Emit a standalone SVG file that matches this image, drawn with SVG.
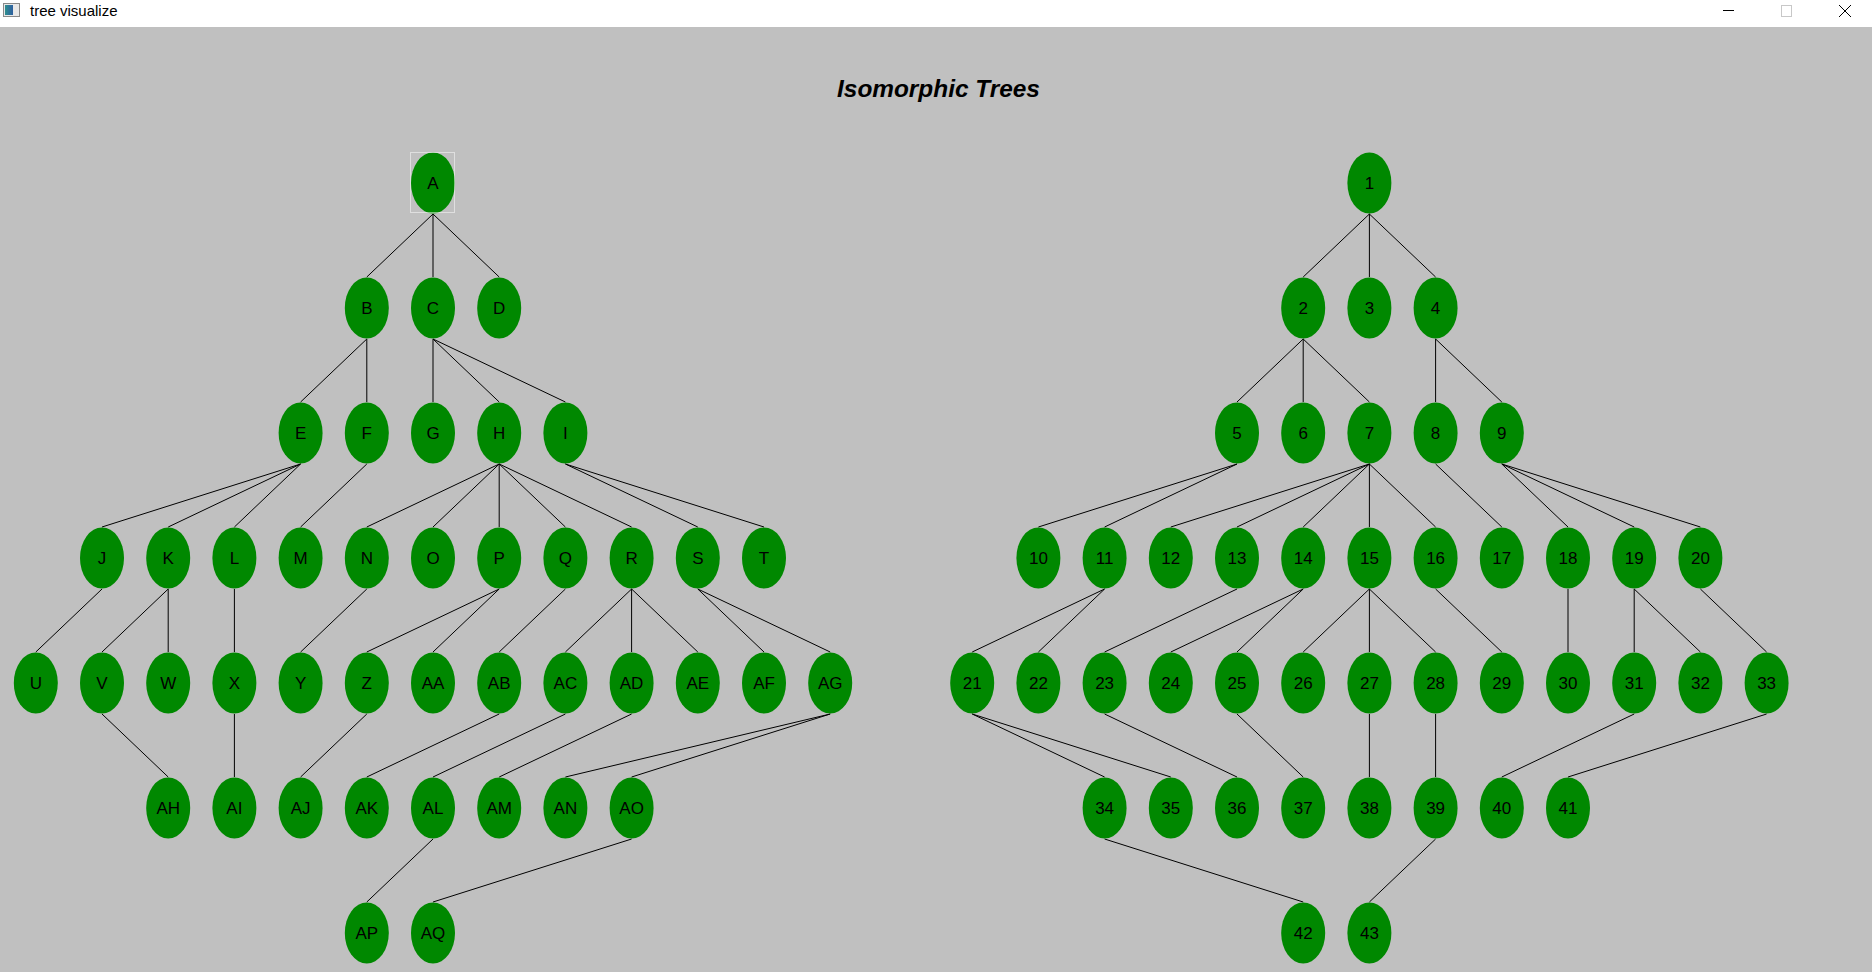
<svg xmlns="http://www.w3.org/2000/svg" width="1872" height="972" viewBox="0 0 1872 972">
<style>
.n ellipse{fill:#008800;stroke:none}
.n text{font-family:"Liberation Sans",Arial,sans-serif;font-size:17px;fill:#000;text-anchor:middle}
#edges line{stroke:#000;stroke-width:1}
</style>
<defs>
<linearGradient id="ic" x1="0" x2="1" y1="0" y2="0"><stop offset="0" stop-color="#2f8f8f"/><stop offset="1" stop-color="#2f5fa0"/></linearGradient>
</defs>
<rect x="0" y="0" width="1872" height="972" fill="#c0c0c0"/>
<g id="titlebar">
<rect x="0" y="0" width="1872" height="27" fill="#ffffff"/>
<rect x="3.5" y="3.5" width="16" height="13" fill="#e8e8e8" stroke="#8a8a8a" stroke-width="1"/>
<rect x="5" y="5" width="8" height="10" fill="url(#ic)"/>
<text x="30" y="16" font-family="'Liberation Sans',Arial,sans-serif" font-size="15" fill="#000">tree visualize</text>
<line x1="1723" y1="10.5" x2="1734" y2="10.5" stroke="#000" stroke-width="1"/>
<rect x="1781.5" y="5.5" width="10" height="11" fill="none" stroke="#c8c8c8" stroke-width="1"/>
<line x1="1839" y1="5" x2="1851" y2="17" stroke="#000" stroke-width="1"/>
<line x1="1851" y1="5" x2="1839" y2="17" stroke="#000" stroke-width="1"/>
</g>
<text id="title" x="938.5" y="97" font-family="'Liberation Sans',Arial,sans-serif" font-size="24.4" font-weight="bold" font-style="italic" text-anchor="middle" fill="#000">Isomorphic Trees</text>
<g id="edges">
<line x1="433" y1="214" x2="366.8" y2="277"/>
<line x1="433" y1="214" x2="433" y2="277"/>
<line x1="433" y1="214" x2="499.2" y2="277"/>
<line x1="366.8" y1="339" x2="300.6" y2="402"/>
<line x1="366.8" y1="339" x2="366.8" y2="402"/>
<line x1="433" y1="339" x2="433" y2="402"/>
<line x1="433" y1="339" x2="499.2" y2="402"/>
<line x1="433" y1="339" x2="565.4" y2="402"/>
<line x1="300.6" y1="464" x2="102" y2="527"/>
<line x1="300.6" y1="464" x2="168.2" y2="527"/>
<line x1="300.6" y1="464" x2="234.4" y2="527"/>
<line x1="366.8" y1="464" x2="300.6" y2="527"/>
<line x1="499.2" y1="464" x2="366.8" y2="527"/>
<line x1="499.2" y1="464" x2="433" y2="527"/>
<line x1="499.2" y1="464" x2="499.2" y2="527"/>
<line x1="499.2" y1="464" x2="565.4" y2="527"/>
<line x1="499.2" y1="464" x2="631.6" y2="527"/>
<line x1="565.4" y1="464" x2="697.8" y2="527"/>
<line x1="565.4" y1="464" x2="764" y2="527"/>
<line x1="102" y1="589" x2="35.8" y2="652"/>
<line x1="168.2" y1="589" x2="102" y2="652"/>
<line x1="168.2" y1="589" x2="168.2" y2="652"/>
<line x1="234.4" y1="589" x2="234.4" y2="652"/>
<line x1="366.8" y1="589" x2="300.6" y2="652"/>
<line x1="499.2" y1="589" x2="366.8" y2="652"/>
<line x1="499.2" y1="589" x2="433" y2="652"/>
<line x1="565.4" y1="589" x2="499.2" y2="652"/>
<line x1="631.6" y1="589" x2="565.4" y2="652"/>
<line x1="631.6" y1="589" x2="631.6" y2="652"/>
<line x1="631.6" y1="589" x2="697.8" y2="652"/>
<line x1="697.8" y1="589" x2="764" y2="652"/>
<line x1="697.8" y1="589" x2="830.2" y2="652"/>
<line x1="102" y1="714" x2="168.2" y2="777"/>
<line x1="234.4" y1="714" x2="234.4" y2="777"/>
<line x1="366.8" y1="714" x2="300.6" y2="777"/>
<line x1="499.2" y1="714" x2="366.8" y2="777"/>
<line x1="565.4" y1="714" x2="433" y2="777"/>
<line x1="631.6" y1="714" x2="499.2" y2="777"/>
<line x1="830.2" y1="714" x2="565.4" y2="777"/>
<line x1="830.2" y1="714" x2="631.6" y2="777"/>
<line x1="433" y1="839" x2="366.8" y2="902"/>
<line x1="631.6" y1="839" x2="433" y2="902"/>
<line x1="1369.4" y1="214" x2="1303.2" y2="277"/>
<line x1="1369.4" y1="214" x2="1369.4" y2="277"/>
<line x1="1369.4" y1="214" x2="1435.6" y2="277"/>
<line x1="1303.2" y1="339" x2="1237" y2="402"/>
<line x1="1303.2" y1="339" x2="1303.2" y2="402"/>
<line x1="1303.2" y1="339" x2="1369.4" y2="402"/>
<line x1="1435.6" y1="339" x2="1435.6" y2="402"/>
<line x1="1435.6" y1="339" x2="1501.8" y2="402"/>
<line x1="1237" y1="464" x2="1038.4" y2="527"/>
<line x1="1237" y1="464" x2="1104.6" y2="527"/>
<line x1="1369.4" y1="464" x2="1170.8" y2="527"/>
<line x1="1369.4" y1="464" x2="1237" y2="527"/>
<line x1="1369.4" y1="464" x2="1303.2" y2="527"/>
<line x1="1369.4" y1="464" x2="1369.4" y2="527"/>
<line x1="1369.4" y1="464" x2="1435.6" y2="527"/>
<line x1="1435.6" y1="464" x2="1501.8" y2="527"/>
<line x1="1501.8" y1="464" x2="1568" y2="527"/>
<line x1="1501.8" y1="464" x2="1634.2" y2="527"/>
<line x1="1501.8" y1="464" x2="1700.4" y2="527"/>
<line x1="1104.6" y1="589" x2="972.2" y2="652"/>
<line x1="1104.6" y1="589" x2="1038.4" y2="652"/>
<line x1="1237" y1="589" x2="1104.6" y2="652"/>
<line x1="1303.2" y1="589" x2="1170.8" y2="652"/>
<line x1="1303.2" y1="589" x2="1237" y2="652"/>
<line x1="1369.4" y1="589" x2="1303.2" y2="652"/>
<line x1="1369.4" y1="589" x2="1369.4" y2="652"/>
<line x1="1369.4" y1="589" x2="1435.6" y2="652"/>
<line x1="1435.6" y1="589" x2="1501.8" y2="652"/>
<line x1="1568" y1="589" x2="1568" y2="652"/>
<line x1="1634.2" y1="589" x2="1634.2" y2="652"/>
<line x1="1634.2" y1="589" x2="1700.4" y2="652"/>
<line x1="1700.4" y1="589" x2="1766.6" y2="652"/>
<line x1="972.2" y1="714" x2="1104.6" y2="777"/>
<line x1="972.2" y1="714" x2="1170.8" y2="777"/>
<line x1="1104.6" y1="714" x2="1237" y2="777"/>
<line x1="1237" y1="714" x2="1303.2" y2="777"/>
<line x1="1369.4" y1="714" x2="1369.4" y2="777"/>
<line x1="1435.6" y1="714" x2="1435.6" y2="777"/>
<line x1="1634.2" y1="714" x2="1501.8" y2="777"/>
<line x1="1766.6" y1="714" x2="1568" y2="777"/>
<line x1="1104.6" y1="839" x2="1303.2" y2="902"/>
<line x1="1435.6" y1="839" x2="1369.4" y2="902"/>
</g>
<g id="n-A" class="n"><ellipse cx="433" cy="183" rx="22" ry="30.5"/><text x="433" y="189">A</text></g>
<rect id="focus" x="410.5" y="152.5" width="44" height="60" fill="none" stroke="#ffffff" stroke-width="1" stroke-dasharray="1,1"/>
<g id="n-B" class="n"><ellipse cx="366.8" cy="308" rx="22" ry="30.5"/><text x="366.8" y="314">B</text></g>
<g id="n-C" class="n"><ellipse cx="433" cy="308" rx="22" ry="30.5"/><text x="433" y="314">C</text></g>
<g id="n-D" class="n"><ellipse cx="499.2" cy="308" rx="22" ry="30.5"/><text x="499.2" y="314">D</text></g>
<g id="n-E" class="n"><ellipse cx="300.6" cy="433" rx="22" ry="30.5"/><text x="300.6" y="439">E</text></g>
<g id="n-F" class="n"><ellipse cx="366.8" cy="433" rx="22" ry="30.5"/><text x="366.8" y="439">F</text></g>
<g id="n-G" class="n"><ellipse cx="433" cy="433" rx="22" ry="30.5"/><text x="433" y="439">G</text></g>
<g id="n-H" class="n"><ellipse cx="499.2" cy="433" rx="22" ry="30.5"/><text x="499.2" y="439">H</text></g>
<g id="n-I" class="n"><ellipse cx="565.4" cy="433" rx="22" ry="30.5"/><text x="565.4" y="439">I</text></g>
<g id="n-J" class="n"><ellipse cx="102" cy="558" rx="22" ry="30.5"/><text x="102" y="564">J</text></g>
<g id="n-K" class="n"><ellipse cx="168.2" cy="558" rx="22" ry="30.5"/><text x="168.2" y="564">K</text></g>
<g id="n-L" class="n"><ellipse cx="234.4" cy="558" rx="22" ry="30.5"/><text x="234.4" y="564">L</text></g>
<g id="n-M" class="n"><ellipse cx="300.6" cy="558" rx="22" ry="30.5"/><text x="300.6" y="564">M</text></g>
<g id="n-N" class="n"><ellipse cx="366.8" cy="558" rx="22" ry="30.5"/><text x="366.8" y="564">N</text></g>
<g id="n-O" class="n"><ellipse cx="433" cy="558" rx="22" ry="30.5"/><text x="433" y="564">O</text></g>
<g id="n-P" class="n"><ellipse cx="499.2" cy="558" rx="22" ry="30.5"/><text x="499.2" y="564">P</text></g>
<g id="n-Q" class="n"><ellipse cx="565.4" cy="558" rx="22" ry="30.5"/><text x="565.4" y="564">Q</text></g>
<g id="n-R" class="n"><ellipse cx="631.6" cy="558" rx="22" ry="30.5"/><text x="631.6" y="564">R</text></g>
<g id="n-S" class="n"><ellipse cx="697.8" cy="558" rx="22" ry="30.5"/><text x="697.8" y="564">S</text></g>
<g id="n-T" class="n"><ellipse cx="764" cy="558" rx="22" ry="30.5"/><text x="764" y="564">T</text></g>
<g id="n-U" class="n"><ellipse cx="35.8" cy="683" rx="22" ry="30.5"/><text x="35.8" y="689">U</text></g>
<g id="n-V" class="n"><ellipse cx="102" cy="683" rx="22" ry="30.5"/><text x="102" y="689">V</text></g>
<g id="n-W" class="n"><ellipse cx="168.2" cy="683" rx="22" ry="30.5"/><text x="168.2" y="689">W</text></g>
<g id="n-X" class="n"><ellipse cx="234.4" cy="683" rx="22" ry="30.5"/><text x="234.4" y="689">X</text></g>
<g id="n-Y" class="n"><ellipse cx="300.6" cy="683" rx="22" ry="30.5"/><text x="300.6" y="689">Y</text></g>
<g id="n-Z" class="n"><ellipse cx="366.8" cy="683" rx="22" ry="30.5"/><text x="366.8" y="689">Z</text></g>
<g id="n-AA" class="n"><ellipse cx="433" cy="683" rx="22" ry="30.5"/><text x="433" y="689">AA</text></g>
<g id="n-AB" class="n"><ellipse cx="499.2" cy="683" rx="22" ry="30.5"/><text x="499.2" y="689">AB</text></g>
<g id="n-AC" class="n"><ellipse cx="565.4" cy="683" rx="22" ry="30.5"/><text x="565.4" y="689">AC</text></g>
<g id="n-AD" class="n"><ellipse cx="631.6" cy="683" rx="22" ry="30.5"/><text x="631.6" y="689">AD</text></g>
<g id="n-AE" class="n"><ellipse cx="697.8" cy="683" rx="22" ry="30.5"/><text x="697.8" y="689">AE</text></g>
<g id="n-AF" class="n"><ellipse cx="764" cy="683" rx="22" ry="30.5"/><text x="764" y="689">AF</text></g>
<g id="n-AG" class="n"><ellipse cx="830.2" cy="683" rx="22" ry="30.5"/><text x="830.2" y="689">AG</text></g>
<g id="n-AH" class="n"><ellipse cx="168.2" cy="808" rx="22" ry="30.5"/><text x="168.2" y="814">AH</text></g>
<g id="n-AI" class="n"><ellipse cx="234.4" cy="808" rx="22" ry="30.5"/><text x="234.4" y="814">AI</text></g>
<g id="n-AJ" class="n"><ellipse cx="300.6" cy="808" rx="22" ry="30.5"/><text x="300.6" y="814">AJ</text></g>
<g id="n-AK" class="n"><ellipse cx="366.8" cy="808" rx="22" ry="30.5"/><text x="366.8" y="814">AK</text></g>
<g id="n-AL" class="n"><ellipse cx="433" cy="808" rx="22" ry="30.5"/><text x="433" y="814">AL</text></g>
<g id="n-AM" class="n"><ellipse cx="499.2" cy="808" rx="22" ry="30.5"/><text x="499.2" y="814">AM</text></g>
<g id="n-AN" class="n"><ellipse cx="565.4" cy="808" rx="22" ry="30.5"/><text x="565.4" y="814">AN</text></g>
<g id="n-AO" class="n"><ellipse cx="631.6" cy="808" rx="22" ry="30.5"/><text x="631.6" y="814">AO</text></g>
<g id="n-AP" class="n"><ellipse cx="366.8" cy="933" rx="22" ry="30.5"/><text x="366.8" y="939">AP</text></g>
<g id="n-AQ" class="n"><ellipse cx="433" cy="933" rx="22" ry="30.5"/><text x="433" y="939">AQ</text></g>
<g id="n-1" class="n"><ellipse cx="1369.4" cy="183" rx="22" ry="30.5"/><text x="1369.4" y="189">1</text></g>
<g id="n-2" class="n"><ellipse cx="1303.2" cy="308" rx="22" ry="30.5"/><text x="1303.2" y="314">2</text></g>
<g id="n-3" class="n"><ellipse cx="1369.4" cy="308" rx="22" ry="30.5"/><text x="1369.4" y="314">3</text></g>
<g id="n-4" class="n"><ellipse cx="1435.6" cy="308" rx="22" ry="30.5"/><text x="1435.6" y="314">4</text></g>
<g id="n-5" class="n"><ellipse cx="1237" cy="433" rx="22" ry="30.5"/><text x="1237" y="439">5</text></g>
<g id="n-6" class="n"><ellipse cx="1303.2" cy="433" rx="22" ry="30.5"/><text x="1303.2" y="439">6</text></g>
<g id="n-7" class="n"><ellipse cx="1369.4" cy="433" rx="22" ry="30.5"/><text x="1369.4" y="439">7</text></g>
<g id="n-8" class="n"><ellipse cx="1435.6" cy="433" rx="22" ry="30.5"/><text x="1435.6" y="439">8</text></g>
<g id="n-9" class="n"><ellipse cx="1501.8" cy="433" rx="22" ry="30.5"/><text x="1501.8" y="439">9</text></g>
<g id="n-10" class="n"><ellipse cx="1038.4" cy="558" rx="22" ry="30.5"/><text x="1038.4" y="564">10</text></g>
<g id="n-11" class="n"><ellipse cx="1104.6" cy="558" rx="22" ry="30.5"/><text x="1104.6" y="564">11</text></g>
<g id="n-12" class="n"><ellipse cx="1170.8" cy="558" rx="22" ry="30.5"/><text x="1170.8" y="564">12</text></g>
<g id="n-13" class="n"><ellipse cx="1237" cy="558" rx="22" ry="30.5"/><text x="1237" y="564">13</text></g>
<g id="n-14" class="n"><ellipse cx="1303.2" cy="558" rx="22" ry="30.5"/><text x="1303.2" y="564">14</text></g>
<g id="n-15" class="n"><ellipse cx="1369.4" cy="558" rx="22" ry="30.5"/><text x="1369.4" y="564">15</text></g>
<g id="n-16" class="n"><ellipse cx="1435.6" cy="558" rx="22" ry="30.5"/><text x="1435.6" y="564">16</text></g>
<g id="n-17" class="n"><ellipse cx="1501.8" cy="558" rx="22" ry="30.5"/><text x="1501.8" y="564">17</text></g>
<g id="n-18" class="n"><ellipse cx="1568" cy="558" rx="22" ry="30.5"/><text x="1568" y="564">18</text></g>
<g id="n-19" class="n"><ellipse cx="1634.2" cy="558" rx="22" ry="30.5"/><text x="1634.2" y="564">19</text></g>
<g id="n-20" class="n"><ellipse cx="1700.4" cy="558" rx="22" ry="30.5"/><text x="1700.4" y="564">20</text></g>
<g id="n-21" class="n"><ellipse cx="972.2" cy="683" rx="22" ry="30.5"/><text x="972.2" y="689">21</text></g>
<g id="n-22" class="n"><ellipse cx="1038.4" cy="683" rx="22" ry="30.5"/><text x="1038.4" y="689">22</text></g>
<g id="n-23" class="n"><ellipse cx="1104.6" cy="683" rx="22" ry="30.5"/><text x="1104.6" y="689">23</text></g>
<g id="n-24" class="n"><ellipse cx="1170.8" cy="683" rx="22" ry="30.5"/><text x="1170.8" y="689">24</text></g>
<g id="n-25" class="n"><ellipse cx="1237" cy="683" rx="22" ry="30.5"/><text x="1237" y="689">25</text></g>
<g id="n-26" class="n"><ellipse cx="1303.2" cy="683" rx="22" ry="30.5"/><text x="1303.2" y="689">26</text></g>
<g id="n-27" class="n"><ellipse cx="1369.4" cy="683" rx="22" ry="30.5"/><text x="1369.4" y="689">27</text></g>
<g id="n-28" class="n"><ellipse cx="1435.6" cy="683" rx="22" ry="30.5"/><text x="1435.6" y="689">28</text></g>
<g id="n-29" class="n"><ellipse cx="1501.8" cy="683" rx="22" ry="30.5"/><text x="1501.8" y="689">29</text></g>
<g id="n-30" class="n"><ellipse cx="1568" cy="683" rx="22" ry="30.5"/><text x="1568" y="689">30</text></g>
<g id="n-31" class="n"><ellipse cx="1634.2" cy="683" rx="22" ry="30.5"/><text x="1634.2" y="689">31</text></g>
<g id="n-32" class="n"><ellipse cx="1700.4" cy="683" rx="22" ry="30.5"/><text x="1700.4" y="689">32</text></g>
<g id="n-33" class="n"><ellipse cx="1766.6" cy="683" rx="22" ry="30.5"/><text x="1766.6" y="689">33</text></g>
<g id="n-34" class="n"><ellipse cx="1104.6" cy="808" rx="22" ry="30.5"/><text x="1104.6" y="814">34</text></g>
<g id="n-35" class="n"><ellipse cx="1170.8" cy="808" rx="22" ry="30.5"/><text x="1170.8" y="814">35</text></g>
<g id="n-36" class="n"><ellipse cx="1237" cy="808" rx="22" ry="30.5"/><text x="1237" y="814">36</text></g>
<g id="n-37" class="n"><ellipse cx="1303.2" cy="808" rx="22" ry="30.5"/><text x="1303.2" y="814">37</text></g>
<g id="n-38" class="n"><ellipse cx="1369.4" cy="808" rx="22" ry="30.5"/><text x="1369.4" y="814">38</text></g>
<g id="n-39" class="n"><ellipse cx="1435.6" cy="808" rx="22" ry="30.5"/><text x="1435.6" y="814">39</text></g>
<g id="n-40" class="n"><ellipse cx="1501.8" cy="808" rx="22" ry="30.5"/><text x="1501.8" y="814">40</text></g>
<g id="n-41" class="n"><ellipse cx="1568" cy="808" rx="22" ry="30.5"/><text x="1568" y="814">41</text></g>
<g id="n-42" class="n"><ellipse cx="1303.2" cy="933" rx="22" ry="30.5"/><text x="1303.2" y="939">42</text></g>
<g id="n-43" class="n"><ellipse cx="1369.4" cy="933" rx="22" ry="30.5"/><text x="1369.4" y="939">43</text></g>
</svg>
